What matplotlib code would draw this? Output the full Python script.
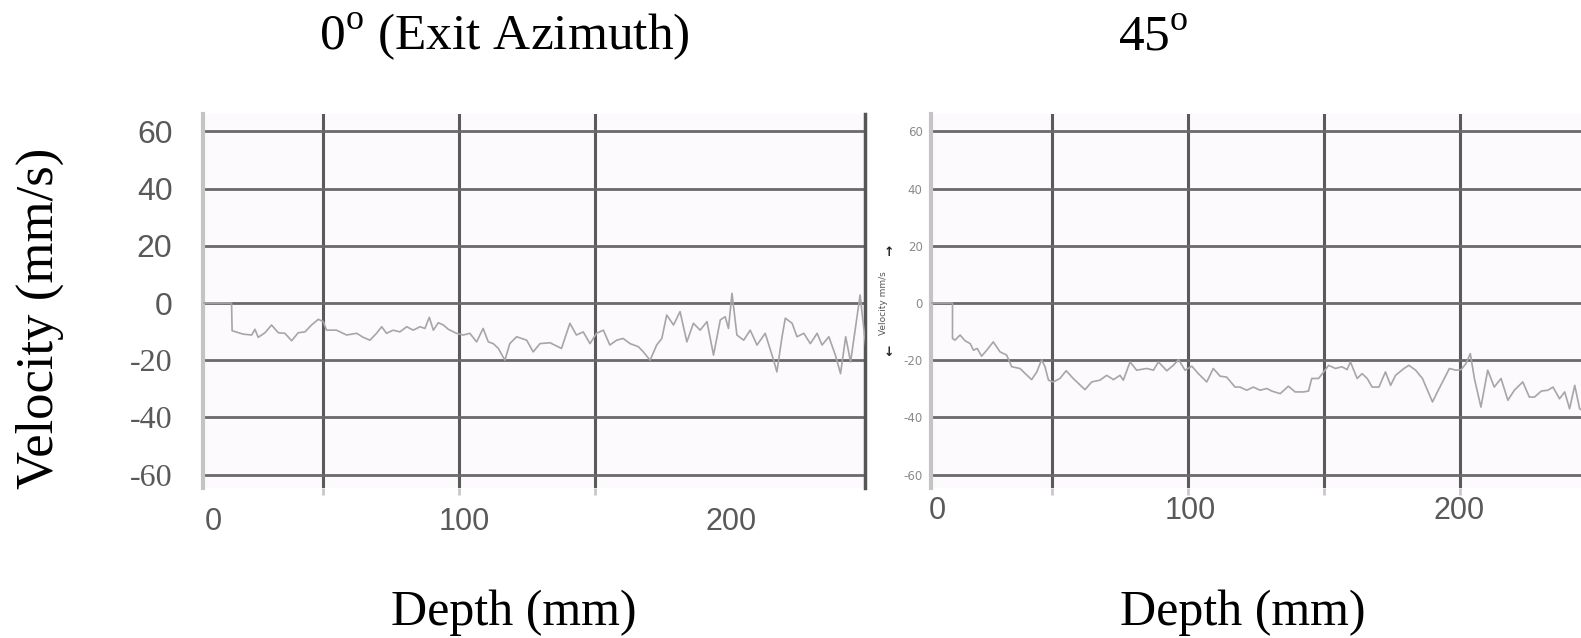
import matplotlib.pyplot as plt

plt.rcParams['mathtext.fontset'] = 'custom'
plt.rcParams['mathtext.rm'] = 'Liberation Serif'

# trace at 0 deg (exit azimuth): depth (mm), velocity (mm/s)
depth_0 = [0, 16.4, 16.6, 20.7, 23.8, 25.0, 26.2, 28.7, 31.1, 33.6, 36.0, 38.5, 40.9, 43.4,
           45.8, 48.3, 50.1, 51.3, 55.0, 58.7, 62.4, 64.8, 67.3, 69.7, 71.6, 73.4, 75.8,
           78.3, 80.8, 83.2, 85.7, 87.5, 89.1, 90.6, 92.4, 94.3, 96.1, 99.1, 101.6, 104.0,
           106.5, 108.9, 110.8, 112.6, 114.5, 116.9, 118.7, 121.2, 124.9, 127.3, 129.8,
           133.5, 137.7, 140.8, 143.2, 145.7, 148.2, 150.6, 153.1, 155.5, 158.0, 160.4,
           162.9, 166.0, 167.8, 170.3, 172.7, 174.6, 176.4, 178.9, 181.3, 183.8, 186.2,
           188.7, 191.2, 193.6, 196.1, 197.9, 199.1, 200.4, 202.2, 204.7, 207.1, 209.6,
           212.6, 215.7, 216.9, 218.8, 220.0, 222.5, 224.3, 226.8, 229.2, 231.7, 233.5,
           236.0, 238.4, 240.3, 242.2, 244.0, 247.5, 249.6]
vel_0 = [0, 0, -9.7, -10.9, -11.2, -9.2, -12.0, -10.4, -7.7, -10.4, -10.6, -13.2, -10.4, -10.1,
         -7.7, -5.7, -6.5, -9.5, -9.5, -11.2, -10.6, -12.0, -13.0, -10.6, -8.3, -10.6, -9.5,
         -10.1, -8.3, -9.5, -8.3, -8.9, -5.0, -9.5, -6.9, -7.7, -9.2, -10.6, -11.2, -10.6,
         -13.6, -8.9, -13.6, -14.2, -15.9, -20.0, -14.2, -11.8, -13.0, -17.1, -14.2,
         -13.9, -15.9, -7.1, -11.2, -10.1, -14.2, -10.6, -9.5, -14.7, -13.0, -12.4,
         -14.2, -15.3, -17.1, -20.0, -14.7, -12.4, -4.2, -7.7, -3.0, -13.6, -7.1,
         -9.5, -6.5, -18.2, -5.9, -4.8, -8.9, 3.4, -11.2, -13.0, -9.5, -14.7,
         -10.6, -20.0, -24.1, -11.8, -5.3, -7.1, -11.8, -10.6, -14.2, -10.6, -14.7,
         -11.8, -18.2, -24.7, -11.8, -20.6, 2.8, -15.3]

# trace at 45 deg
depth_45 = [0, 13.4, 13.4, 14.3, 16.2, 18.0, 19.9, 21.1, 22.5, 24.1, 26.0, 28.4, 30.9, 33.3,
            35.2, 38.2, 42.5, 44.4, 46.2, 47.4, 48.7, 50.5, 52.9, 55.2, 57.8, 62.1, 64.6,
            67.6, 70.1, 72.6, 75.0, 76.2, 78.7, 81.1, 84.8, 87.3, 89.1, 92.2, 94.6, 96.5,
            98.9, 101.4, 103.8, 106.9, 109.3, 111.8, 114.2, 117.3, 119.1, 121.6, 124.0,
            126.5, 129.0, 130.8, 133.9, 136.9, 139.4, 142.5, 144.3, 145.5, 148.0, 149.9,
            151.7, 154.2, 156.6, 158.5, 159.7, 162.2, 164.0, 165.9, 167.7, 170.2, 172.6,
            174.5, 176.3, 179.4, 181.2, 183.7, 186.2, 189.9, 191.7, 193.6, 196.1, 198.5,
            200.4, 202.2, 203.8, 205.3, 207.7, 210.2, 212.6, 215.1, 217.6, 220.0, 223.1,
            225.5, 227.4, 229.9, 232.3, 234.2, 236.6, 238.5, 240.3, 242.2, 244.0, 245.0]
vel_45 = [0, 0, -12.4, -13.0, -11.2, -13.2, -14.2, -16.5, -15.9, -18.6, -16.5, -13.6, -17.1,
          -18.2, -22.3, -22.9, -26.8, -24.1, -19.8, -22.3, -27.0, -27.6, -26.4, -23.7,
          -26.4, -30.3, -27.6, -27.0, -25.3, -26.8, -25.3, -27.0, -20.6, -23.5, -22.9,
          -23.5, -20.6, -23.7, -21.8, -19.8, -23.5, -22.1, -24.7, -27.6, -22.9, -25.6,
          -25.9, -29.4, -29.4, -30.5, -29.4, -30.5, -29.9, -30.8, -31.7, -29.1, -31.1,
          -31.1, -30.8, -26.4, -26.4, -24.1, -21.8, -22.9, -22.3, -23.3, -20.6, -26.4,
          -24.7, -26.4, -29.4, -29.4, -24.1, -28.8, -25.3, -22.9, -21.8, -23.5, -26.4,
          -34.6, -31.1, -27.6, -22.9, -23.5, -23.3, -21.2, -17.7, -26.4, -36.4, -23.5,
          -29.4, -26.4, -34.0, -30.5, -27.6, -32.9, -32.9, -30.8, -30.5, -29.4, -33.5,
          -31.1, -37.0, -28.8, -37.0, -37.6]

y_ticks = [60, 40, 20, 0, -20, -40, -60]
grid_depths = [50, 100, 150, 200]
x_tick_text = ['0', '100', '200']
x_ticks_0 = [9.6, 102, 200]
x_ticks_45 = [7.7, 101, 199.5]

W, H = 1581, 638
fig = plt.figure(figsize=(W / 100, H / 100), dpi=100)
ax1 = fig.add_axes([203 / W, 150 / H, 662 / W, 374 / H])
ax2 = fig.add_axes([931 / W, 150 / H, 650 / W, 374 / H])

for ax, d, v, xlim, xt in [(ax1, depth_0, vel_0, (5.9, 249.3), x_ticks_0),
                           (ax2, depth_45, vel_45, (5.5, 244.5), x_ticks_45)]:
    ax.set_facecolor('#fcfafc')
    ax.plot(d, v, color='#a6a6a6', lw=1.2, zorder=3)
    ax.set_xlim(*xlim)
    ax.set_ylim(-64.7, 66.1)
    ax.set_yticks(y_ticks)
    ax.set_xticks(xt)
    ax.set_xticklabels(x_tick_text)
    ax.set_xticks(grid_depths, minor=True)
    ax.grid(axis='y', which='major', color='#6a6a6a', lw=2)
    ax.grid(axis='x', which='minor', color='#5a5a5a', lw=2.2)
    ax.set_axisbelow(True)
    for s in ['top', 'bottom']:
        ax.spines[s].set_visible(False)
    ax.spines['left'].set_color('#c4c4c4')
    ax.spines['left'].set_linewidth(3)
    ax.tick_params(axis='both', which='major', length=0)
    ax.tick_params(axis='x', which='minor', direction='out', length=5, width=2, color='#c8c8c8')

ax1.spines['right'].set_color('#555555')
ax1.spines['right'].set_linewidth(2.5)
ax2.spines['right'].set_visible(False)

# left panel ticks: positive in sans, negative in serif
ax1.set_yticklabels([str(t) for t in y_ticks])
for lab, t in zip(ax1.get_yticklabels(), y_ticks):
    lab.set_fontsize(23)
    lab.set_color('#595959')
    lab.set_fontfamily('Liberation Serif' if t < 0 else 'Liberation Sans')
ax1.tick_params(axis='y', pad=22)
ax1.tick_params(axis='x', which='major', labelsize=22, labelcolor='#595959', pad=14)
for lab in ax1.get_xticklabels():
    lab.set_fontfamily('Liberation Sans')

# right panel: small instrument labels
ax2.set_yticklabels([str(t) for t in y_ticks])
ax2.tick_params(axis='y', labelsize=8.5, labelcolor='#8a8a8a', pad=6)
ax2.tick_params(axis='x', which='major', labelsize=22, labelcolor='#595959', pad=6)
for lab in ax2.get_xticklabels():
    lab.set_fontfamily('Liberation Sans')
fig.text(884 / W, 1 - 303 / H, 'Velocity mm/s', rotation=90, ha='center', va='center',
         fontsize=6.5, color='#555555')
fig.text(889 / W, 1 - 253 / H, '\u2191', ha='center', va='center', fontsize=9,
         fontweight='bold', color='#222222')
fig.text(889 / W, 1 - 352 / H, '\u2193', ha='center', va='center', fontsize=9,
         fontweight='bold', color='#222222')

serif = 'Liberation Serif'
fig.text(504 / W, 1 - 50 / H, '0$^{\\mathrm{o}}$ (Exit Azimuth)', ha='center', va='baseline',
         fontsize=37, family=serif)
fig.text(1153 / W, 1 - 50 / H, '45$^{\\mathrm{o}}$', ha='center', va='baseline',
         fontsize=37, family=serif)
fig.text(514 / W, 1 - 625 / H, 'Depth (mm)', ha='center', va='baseline', fontsize=36,
         family=serif)
fig.text(1243 / W, 1 - 625 / H, 'Depth (mm)', ha='center', va='baseline', fontsize=36,
         family=serif)
fig.text(40 / W, 1 - 318 / H, 'Velocity (mm/s)', rotation=90, ha='center', va='center',
         fontsize=38, family=serif)

fig.savefig('out.png', dpi=100)
